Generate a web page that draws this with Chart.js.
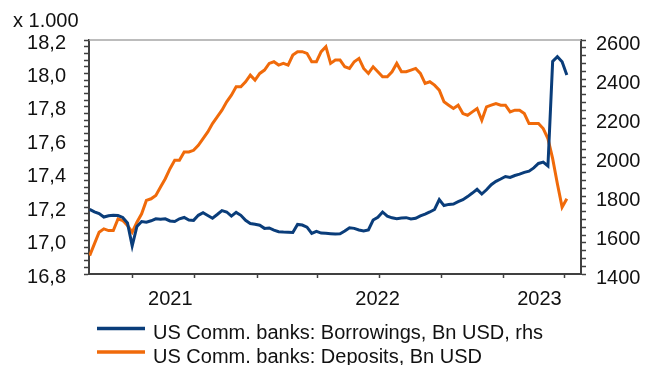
<!DOCTYPE html>
<html>
<head>
<meta charset="utf-8">
<script src="https://cdn.jsdelivr.net/npm/chart.js@4.4.1/dist/chart.umd.min.js"></script>
<style>
  html, body { margin: 0; padding: 0; background: #fff; }
  #wrap { width: 646px; height: 365px; }
</style>
</head>
<body>
<div id="wrap"><canvas id="chart" width="646" height="365"></canvas></div>
<script>
// Weekly H.8 figures, one value per Wednesday starting at FIRST_WEEK
const FIRST_WEEK = '2021-04-28';

// Borrowings, Bn USD (right axis)
const borrowings = [
  1731, 1719, 1710, 1692, 1699, 1701, 1700, 1690, 1662, 1544,
  1644, 1669, 1666, 1673, 1683, 1681, 1683, 1672, 1669, 1683,
  1690, 1677, 1675, 1701, 1714, 1700, 1686, 1705, 1725, 1718,
  1697, 1716, 1701, 1675, 1659, 1655, 1650, 1634, 1636, 1625,
  1617, 1615, 1614, 1613, 1654, 1651, 1640, 1608, 1619, 1610,
  1609, 1607, 1605, 1606, 1620, 1637, 1634, 1626, 1621, 1626,
  1677, 1691, 1718, 1697, 1688, 1684, 1687, 1689, 1682, 1686,
  1698, 1707, 1718, 1731, 1782, 1751, 1757, 1759, 1771, 1781,
  1797, 1815, 1834, 1810, 1832, 1858, 1875, 1887, 1900, 1895,
  1905, 1912, 1921, 1927, 1944, 1967, 1974, 1954, 2490, 2514,
  2488, 2420
];

// Deposits, x 1.000 Bn USD (left axis)
const deposits = [
  16.91, 16.98, 17.05, 17.07, 17.06, 17.06, 17.13, 17.12, 17.09, 17.05,
  17.11, 17.16, 17.24, 17.25, 17.27, 17.32, 17.37, 17.43, 17.48, 17.48,
  17.53, 17.53, 17.54, 17.57, 17.61, 17.65, 17.70, 17.74, 17.78, 17.83,
  17.87, 17.92, 17.92, 17.95, 17.99, 17.96, 18.00, 18.02, 18.06, 18.07,
  18.05, 18.06, 18.05, 18.11, 18.13, 18.13, 18.12, 18.07, 18.07, 18.13,
  18.16, 18.06, 18.08, 18.08, 18.04, 18.03, 18.07, 18.09, 18.03, 18.00,
  18.04, 18.01, 17.98, 17.98, 18.01, 18.06, 18.01, 18.01, 18.02, 18.03,
  18.00, 17.94, 17.95, 17.93, 17.90, 17.83, 17.81, 17.79, 17.81, 17.76,
  17.75, 17.77, 17.79, 17.72, 17.80, 17.81, 17.82, 17.81, 17.81, 17.77,
  17.78, 17.78, 17.76, 17.70, 17.70, 17.70, 17.67, 17.61, 17.49, 17.34,
  17.20, 17.25
];

const seriesLabels = [
  'US Comm. banks: Borrowings, Bn USD, rhs',
  'US Comm. banks: Deposits, Bn USD'
];
const unitLabel = 'x 1.000';

// axis settings
const xRange = ['2021-04-27', '2023-04-26'];
const quarterTicks = ['2021-07-01', '2021-10-01', '2022-01-01', '2022-04-01',
                      '2022-07-01', '2022-10-01', '2023-01-01', '2023-04-01'];
const yearLabels = ['2021', '2022', '2023'];
const leftRange = [16.8, 18.2];   // labels every 0.2
const rightRange = [1400, 2600];  // labels every 200

const FONT = '"Liberation Sans", Arial, Helvetica, sans-serif';
const TEXT = '#111111';
const AXIS = '#404040';
const BLUE = '#0a3d7a';
const ORANGE = '#f06a0a';

// day numbers since 1 Jan 2021
const ORIGIN = Date.UTC(2021, 0, 1);
function dayNo(iso) { return (Date.parse(iso) - ORIGIN) / 864e5; }

const xMin = dayNo(xRange[0]);
const xMax = dayNo(xRange[1]);
const week0 = dayNo(FIRST_WEEK);
const toPoints = arr => arr.map((v, i) => ({ x: week0 + 7 * i, y: v }));

// year label sits in the middle of the visible part of that year
const yearMarks = yearLabels.map(y => {
  const a = Math.max(dayNo(y + '-01-01'), xMin);
  const b = Math.min(dayNo((+y + 1) + '-01-01'), xMax);
  return { value: (a + b) / 2 - 4, label: y };
});
const quarterValues = quarterTicks.map(dayNo);

// major step split in five minor ticks
function tickList(range, major) {
  const minor = major / 5;
  const n = Math.round((range[1] - range[0]) / minor);
  const out = [];
  for (let i = 0; i <= n; i++) out.push({ value: +(range[0] + i * minor).toFixed(4), major: i % 5 === 0 });
  return out;
}
const leftTicks = tickList(leftRange, 0.2);
const rightTicks = tickList(rightRange, 200);

const decorations = {
  id: 'decorations',
  beforeDatasetsDraw(chart) {
    const { ctx, chartArea: a } = chart;
    ctx.save();
    ctx.strokeStyle = '#a6a6a6';
    ctx.lineWidth = 1.5;
    ctx.beginPath();
    ctx.moveTo(a.left, a.top);
    ctx.lineTo(a.right, a.top);
    ctx.stroke();
    ctx.restore();
  },
  afterDraw(chart) {
    const { ctx } = chart;
    ctx.save();
    ctx.font = '20px ' + FONT;
    ctx.fillStyle = TEXT;
    ctx.textBaseline = 'alphabetic';
    ctx.fillText(unitLabel, 13, 27);
    // legend, left aligned, one row per series
    chart.data.datasets.forEach((ds, i) => {
      const y = 328.5 + i * 23.5;
      ctx.strokeStyle = ds.borderColor;
      ctx.lineWidth = 3.5;
      ctx.beginPath();
      ctx.moveTo(97, y);
      ctx.lineTo(145, y);
      ctx.stroke();
      ctx.fillText(ds.label, 153, y + 10.5);
    });
    ctx.restore();
  }
};

new Chart(document.getElementById('chart'), {
  type: 'line',
  data: {
    datasets: [
      {
        label: seriesLabels[0],
        data: toPoints(borrowings),
        yAxisID: 'y1',
        borderColor: BLUE,
        borderWidth: 3,
        pointRadius: 0,
        tension: 0
      },
      {
        label: seriesLabels[1],
        data: toPoints(deposits),
        yAxisID: 'y',
        borderColor: ORANGE,
        borderWidth: 3,
        pointRadius: 0,
        tension: 0
      }
    ]
  },
  options: {
    responsive: false,
    animation: false,
    devicePixelRatio: 1,
    layout: { padding: { top: 40, left: 0, right: 0, bottom: 0 } },
    plugins: {
      legend: { display: false },
      tooltip: { enabled: false }
    },
    scales: {
      x: {
        type: 'linear',
        min: xMin,
        max: xMax,
        afterBuildTicks: axis => {
          axis.ticks = quarterValues.map(v => ({ value: v }))
            .concat(yearMarks.map(m => ({ value: m.value })))
            .sort((p, q) => p.value - q.value);
        },
        afterFit: s => { s.height = 91; },
        ticks: {
          autoSkip: false,
          maxRotation: 0,
          padding: 9,
          color: TEXT,
          font: { family: FONT, size: 20 },
          callback: v => {
            const m = yearMarks.find(mm => Math.abs(mm.value - v) < 0.01);
            return m ? m.label : '';
          }
        },
        grid: {
          drawOnChartArea: false,
          tickLength: 4,
          tickWidth: 1.5,
          tickColor: c => (c.tick && yearMarks.some(m => Math.abs(m.value - c.tick.value) < 0.01)) ? 'rgba(0,0,0,0)' : AXIS
        },
        border: { display: true, color: AXIS, width: 2 }
      },
      y: {
        position: 'left',
        min: leftRange[0],
        max: leftRange[1],
        afterBuildTicks: axis => { axis.ticks = leftTicks.map(t => ({ value: t.value })); },
        afterFit: s => { s.width = 89; },
        ticks: {
          autoSkip: false,
          padding: 18,
          labelOffset: 3,
          color: TEXT,
          font: { family: FONT, size: 20 },
          callback: (v, i) => leftTicks[i] && leftTicks[i].major ? v.toFixed(1).replace('.', ',') : ''
        },
        grid: { drawOnChartArea: false, tickLength: 5, tickWidth: 1.5, tickColor: AXIS },
        border: { display: true, color: AXIS, width: 2 }
      },
      y1: {
        position: 'right',
        min: rightRange[0],
        max: rightRange[1],
        afterBuildTicks: axis => { axis.ticks = rightTicks.map(t => ({ value: t.value })); },
        afterFit: s => { s.width = 65; },
        ticks: {
          autoSkip: false,
          padding: 10,
          labelOffset: 4,
          color: TEXT,
          font: { family: FONT, size: 20 },
          callback: (v, i) => rightTicks[i] && rightTicks[i].major ? String(v) : ''
        },
        grid: { drawOnChartArea: false, tickLength: 5, tickWidth: 1.5, tickColor: AXIS },
        border: { display: true, color: AXIS, width: 2 }
      }
    }
  },
  plugins: [decorations]
});
</script>
</body>
</html>
